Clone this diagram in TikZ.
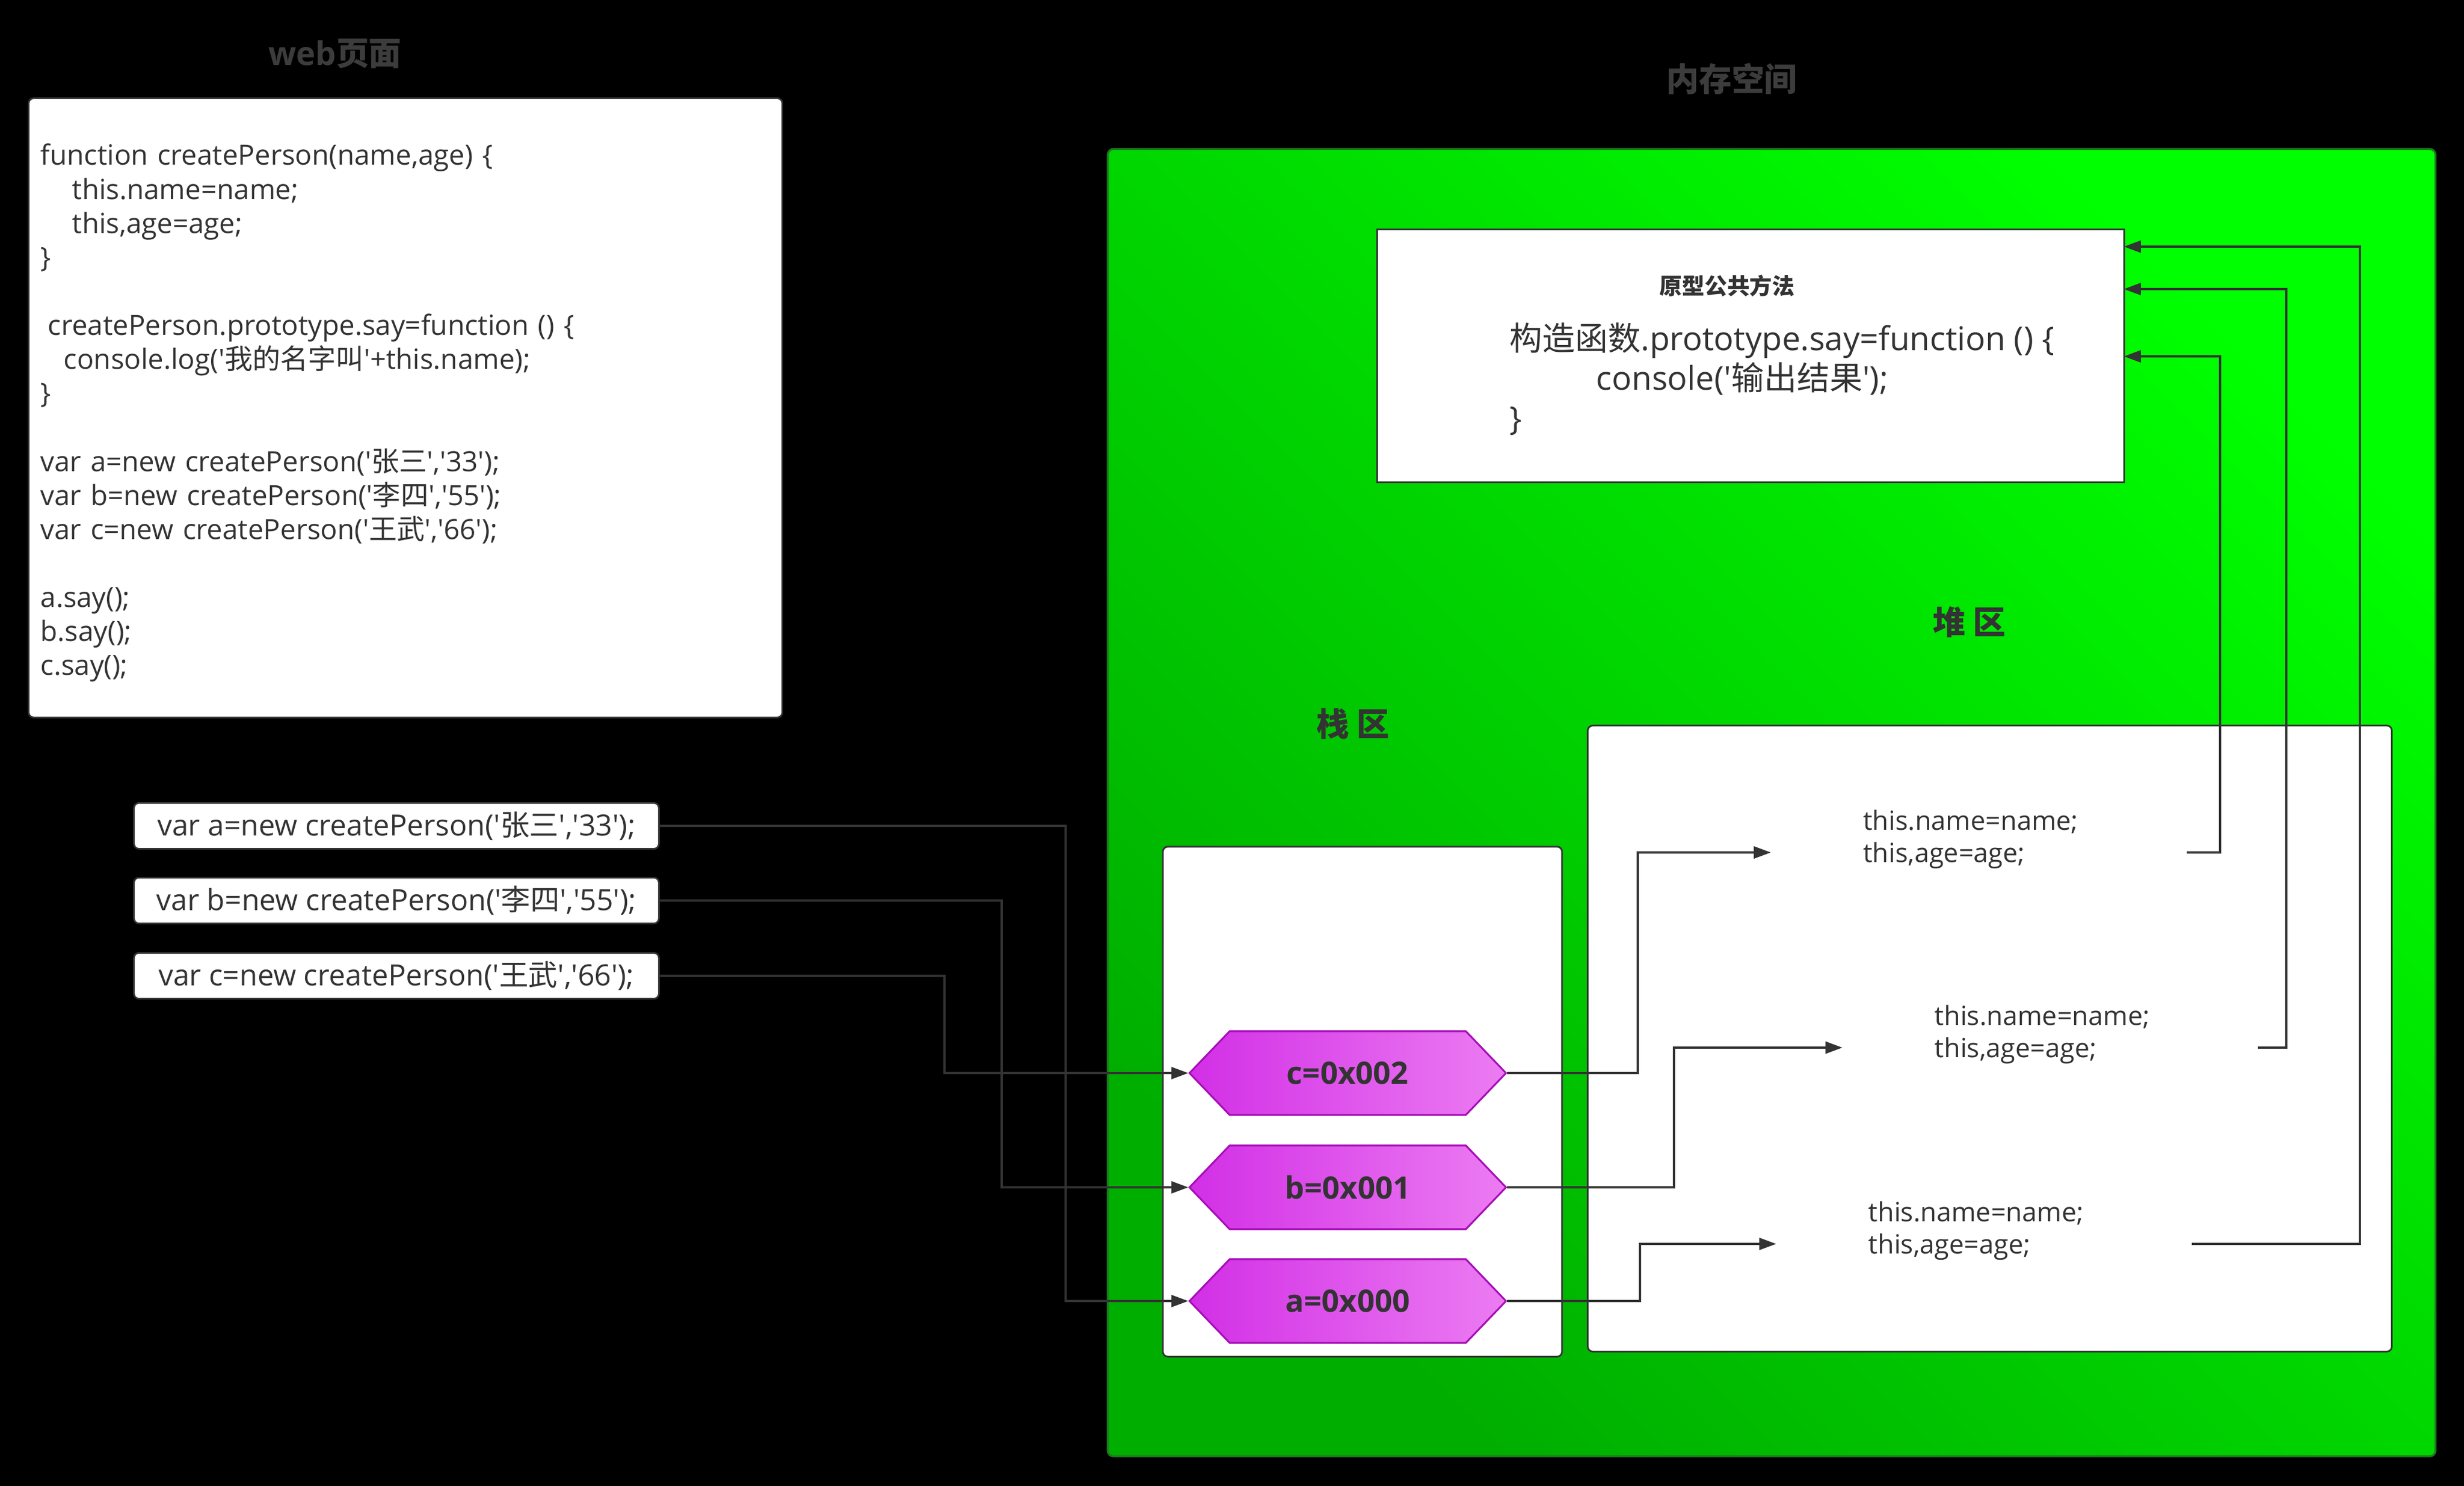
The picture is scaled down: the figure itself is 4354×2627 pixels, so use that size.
\documentclass[tikz,border=0pt]{standalone}
\usepackage{fontspec}
\setmainfont{Open Sans}
\newfontfamily\cjk{Noto Sans CJK SC}
\usetikzlibrary{arrows.meta,shapes.symbols}
\definecolor{ink}{HTML}{333333}
\definecolor{titlegray}{HTML}{3C3C3C}
\definecolor{gdark}{HTML}{00AE00}
\definecolor{glight}{HTML}{00FF00}
\definecolor{gborder}{HTML}{1C7A1C}
\definecolor{hexl}{HTML}{D22FE6}
\definecolor{hexr}{HTML}{EC7CF2}
\definecolor{hexb}{HTML}{A60DB6}
\newcommand\zh[1]{{\cjk #1}}
\newcommand\q{\textquotesingle}
\begin{document}
\begin{tikzpicture}[x=0.01cm,y=-0.01cm,
  box/.style={draw=ink, line width=0.85pt, fill=white, inner sep=0pt},
  rbox/.style={box, rounded corners=2.5pt},
  titletext/.style={text=titlegray, font=\bfseries\fontsize{16.4}{20}\selectfont, inner sep=0pt},
  arealabel/.style={text=ink, font=\bfseries\fontsize{16.4}{20}\selectfont, inner sep=0pt},
  codetext/.style={text=ink, align=left, inner sep=0pt},
  callbox/.style={rbox, minimum width=9.27cm, minimum height=0.81cm, text=ink, font=\fontsize{14.7}{18}\selectfont},
  hexnode/.style={shape=signal, signal to=west and east, signal pointer angle=92.4,
     minimum width=5.59cm, minimum height=1.48cm, inner sep=0pt,
     draw=hexb, line width=0.9pt, left color=hexl, right color=hexr,
     text=ink, font=\bfseries\fontsize{15.5}{18}\selectfont},
  heaptext/.style={codetext, inner xsep=1.625cm, text width=4.08cm, font=\fontsize{13.3}{16.2}\selectfont},
  conn/.style={draw=ink, line width=1pt, -{Triangle[length=8.5pt,width=6pt]}},
  link/.style={draw=ink, line width=1pt}]

\fill[black] (0,0) rectangle (4354,2627);
\useasboundingbox (0,0) rectangle (4354,2627);

% titles
\node[titletext] (tweb) at (592,95) {web\zh{页面}};
\node[titletext] (tmem) at (3060,139) {\zh{内存空间}};

% web page code box
\node[rbox, minimum width=13.31cm, minimum height=10.94cm] (code) at (716.5,721) {};
\node[codetext, inner xsep=0.21cm, text width=12.89cm, font=\fontsize{14}{17.1}\selectfont] (codeT) at (716.5,730) {%
function createPerson(name,age) \{\\
\hspace*{0.56cm}this.name=name;\\
\hspace*{0.56cm}this,age=age;\\
\}\\
\mbox{}\\
\hspace*{0.13cm}createPerson.prototype.say=function () \{\\
\hspace*{0.41cm}console.log(\q\zh{我的名字叫}\q+this.name);\\
\}\\
\mbox{}\\
var a=new createPerson(\q\zh{张三}\q,\q33\q);\\
var b=new createPerson(\q\zh{李四}\q,\q55\q);\\
var c=new createPerson(\q\zh{王武}\q,\q66\q);\\
\mbox{}\\
a.say();\\
b.say();\\
c.say();};

% call boxes
\node[callbox] (la) at (700.5,1460) {var a=new createPerson(\q\zh{张三}\q,\q33\q);};
\node[callbox] (lb) at (700.5,1592) {var b=new createPerson(\q\zh{李四}\q,\q55\q);};
\node[callbox] (lc) at (700.5,1725) {var c=new createPerson(\q\zh{王武}\q,\q66\q);};

% memory space
\node[draw=gborder, line width=1pt, rounded corners=3pt, minimum width=23.45cm, minimum height=23.10cm,
      bottom color=gdark, top color=glight, shading angle=-45, inner sep=0pt] (mem) at (3130.5,1419) {};

% prototype box
\node[box, minimum width=13.19cm, minimum height=4.46cm] (proto) at (3093.5,629) {};
\node[text=ink, font=\bfseries\fontsize{11.3}{14}\selectfont, inner sep=0pt] (protoT) at (3052,505) {\zh{原型公共方法}};
\node[codetext, anchor=west, font=\fontsize{16.5}{20}\selectfont] (protoC) at (2667,670) {%
\zh{构造函数}.prototype.say=function () \{\\
\hspace*{1.53cm}console(\q\zh{输出结果}\q);\\
\}};

% area labels
\node[arealabel] (lheap) at (3480,1100) {\zh{堆 区}};
\node[arealabel] (lstack) at (2391,1280) {\zh{栈 区}};

% heap and stack
\node[rbox, minimum width=14.20cm, minimum height=11.06cm] (heap) at (3516,1836) {};
\node[rbox, minimum width=7.05cm, minimum height=9.01cm] (stack) at (2407.5,1947.5) {};

% stack variables
\node[hexnode] (hc) at (2381.5,1897) {c=0x002};
\node[hexnode] (hb) at (2381.5,2099) {b=0x001};
\node[hexnode] (ha) at (2381.5,2300) {a=0x000};

% heap objects
\node[heaptext] (h1) at (3496.5,1507) {this.name=name;\\this,age=age;\\\mbox{}};
\node[heaptext] (h2) at (3623,1852) {this.name=name;\\this,age=age;\\\mbox{}};
\node[heaptext] (h3) at (3506,2199) {this.name=name;\\this,age=age;\\\mbox{}};

% waypoints
\coordinate (wa) at (1883,2000);
\coordinate (wb) at (1770,1800);
\coordinate (wc) at (1669,1800);
\coordinate (vc) at (2894,1700);
\coordinate (vb) at (2958,1950);
\coordinate (va) at (2898,2250);
\coordinate (r1) at (3923,1000);
\coordinate (r2) at (4040,1000);
\coordinate (r3) at (4170,1000);
\coordinate (p1) at (3753,436);
\coordinate (p2) at (3753,511);
\coordinate (p3) at (3753,630);

% connectors
\draw[conn] (la.east) -| (wa) |- (ha.west);
\draw[conn] (lb.east) -| (wb) |- (hb.west);
\draw[conn] (lc.east) -| (wc) |- (hc.west);
\draw[conn] (hc.east) -| (vc) |- (h1.west);
\draw[conn] (hb.east) -| (vb) |- (h2.west);
\draw[conn] (ha.east) -| (va) |- (h3.west);
\draw[conn] (h1.east) -| (r1) |- (p3);
\draw[conn] (h2.east) -| (r2) |- (p2);
\draw[conn] (h3.east) -| (r3) |- (p1);
\end{tikzpicture}
\end{document}
